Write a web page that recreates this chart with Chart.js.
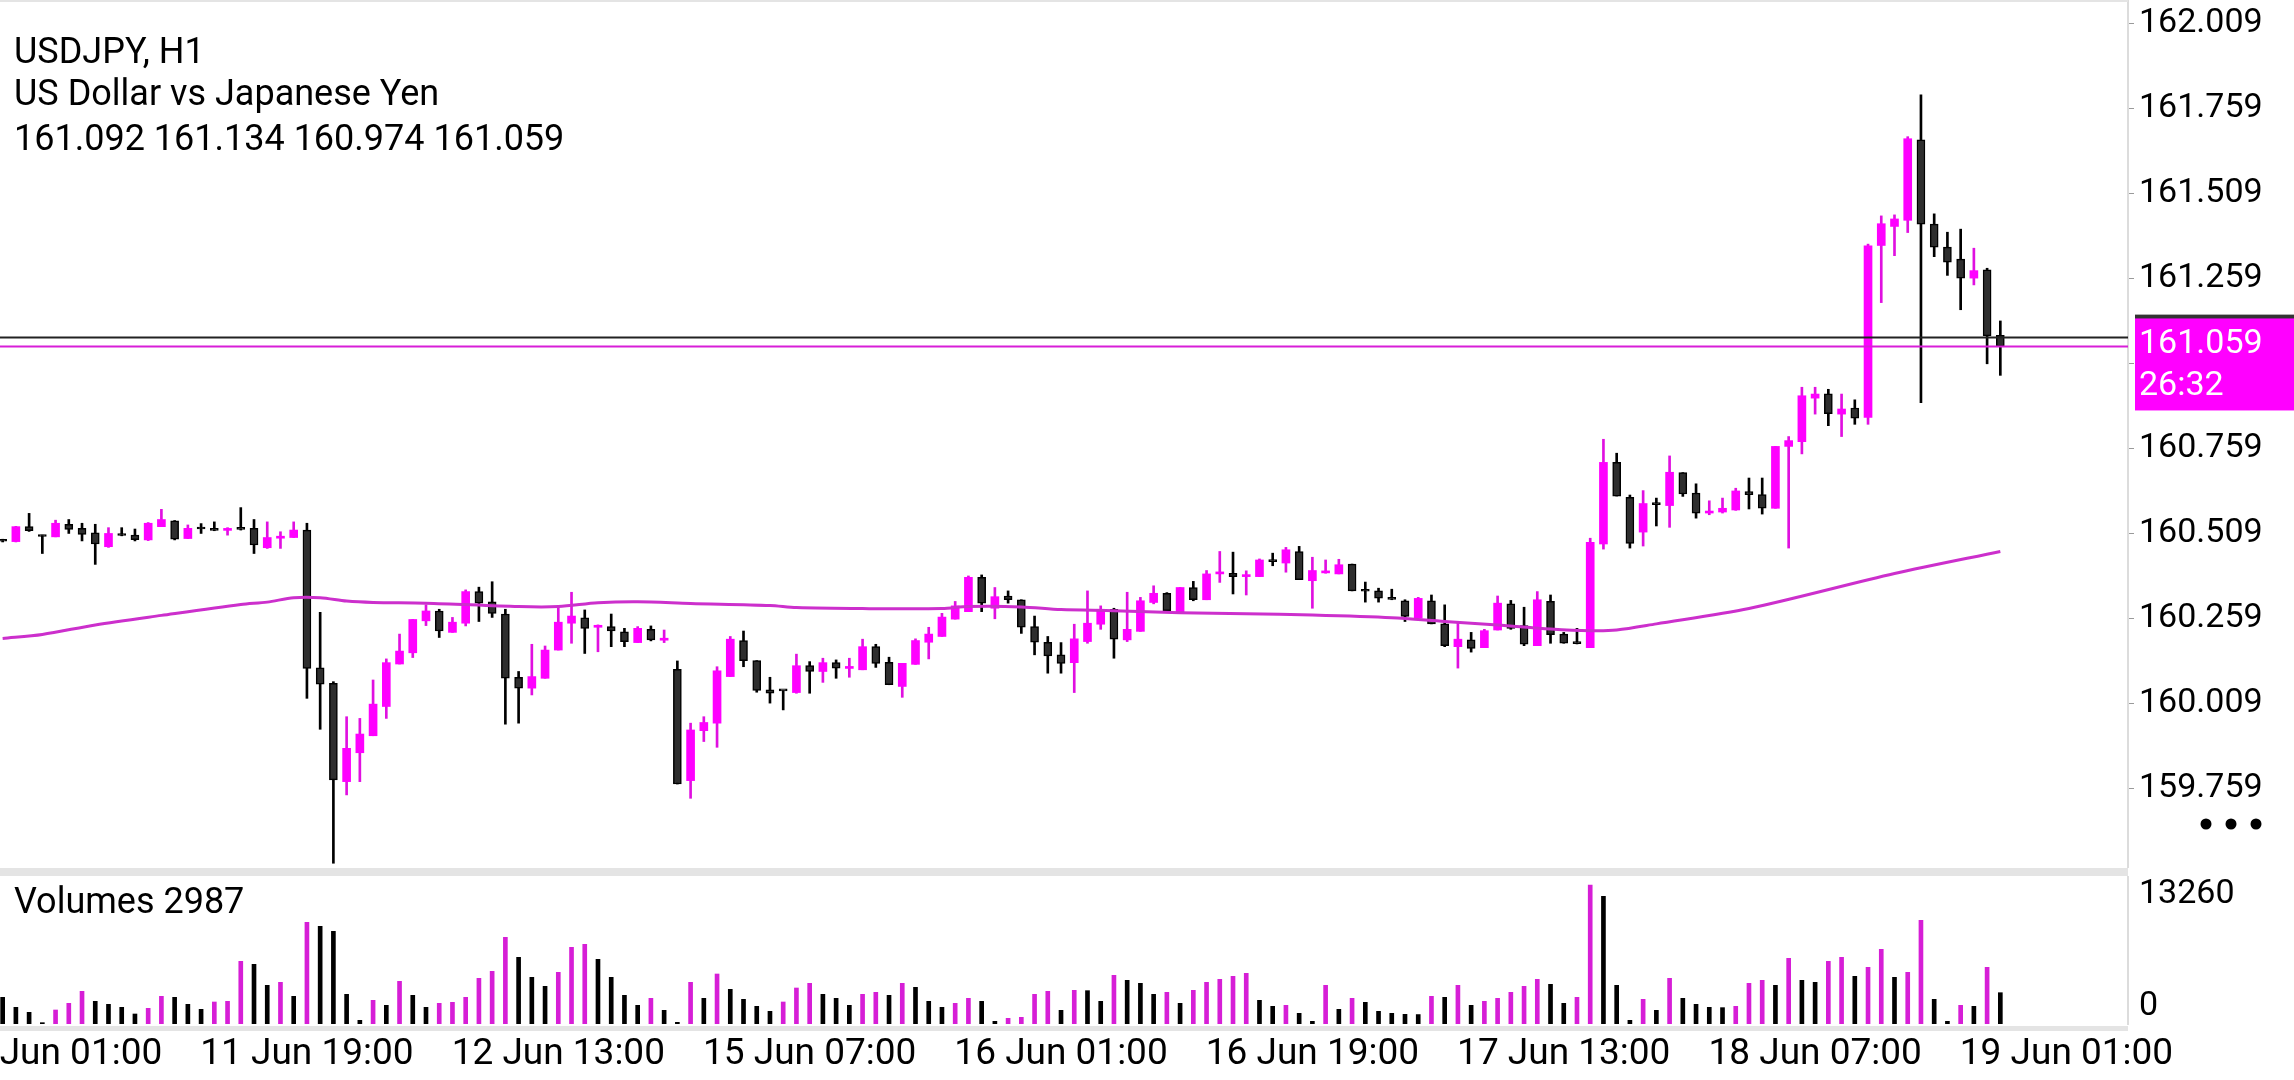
<!DOCTYPE html>
<html>
<head>
<meta charset="utf-8">
<title>USDJPY, H1</title>
<script src="https://cdn.jsdelivr.net/npm/chart.js@4.4.1/dist/chart.umd.min.js"></script>
<style>
    html, body { margin: 0; padding: 0; background: #fff; }
    body { width: 2294px; height: 1080px; position: relative; overflow: hidden; font-family: Roboto, sans-serif; color: #000; }
    canvas { position: absolute; left: 0; }
    #priceChart { top: 0; }
    #volumeChart { top: 876px; }
    .band { position: absolute; background: #e4e4e4; }
    .txt { position: absolute; left: 14px; font-size: 36px; line-height: 42px; white-space: nowrap; }
</style>
</head>
<body>
<canvas id="priceChart" width="2294" height="868"></canvas>
<div class="band" style="left:0;top:0;width:2128px;height:2px"></div>
<div class="band" style="left:0;top:868px;width:2128px;height:8px"></div>
<canvas id="volumeChart" width="2294" height="204"></canvas>
<div class="band" style="left:0;top:1026px;width:2128px;height:5px"></div>
<div class="txt" style="top:30px">USDJPY, H1</div>
<div class="txt" style="top:72px">US Dollar vs Japanese Yen</div>
<div class="txt" id="ohlcText" style="top:117px"></div>
<div class="txt" id="volText" style="top:880px"></div>
<script>
// Hourly candles, oldest first
const open = [
    160.490,160.485,160.529,160.501,160.499,160.536,160.524,160.511,160.470,160.505,
    160.504,160.490,160.529,160.546,160.494,160.524,160.520,160.518,160.523,160.524,
    160.467,160.495,160.497,160.519,160.114,160.068,159.779,159.864,159.914,160.000,
    160.125,160.158,160.252,160.281,160.218,160.245,160.338,160.308,160.272,160.086,
    160.054,160.083,160.166,160.245,160.261,160.233,160.235,160.220,160.188,160.227,
    160.195,160.109,159.782,159.929,159.951,160.088,160.194,160.135,160.049,160.047,
    160.041,160.120,160.103,160.129,160.112,160.108,160.176,160.130,160.059,160.124,
    160.189,160.206,160.257,160.279,160.380,160.289,160.325,160.314,160.235,160.189,
    160.152,160.129,160.191,160.242,160.286,160.196,160.221,160.306,160.333,160.279,
    160.350,160.314,160.390,160.392,160.382,160.382,160.428,160.422,160.456,160.370,
    160.393,160.390,160.419,160.341,160.340,160.318,160.311,160.260,160.311,160.243,
    160.176,160.196,160.173,160.225,160.302,160.238,160.179,160.309,160.213,160.187,
    160.173,160.478,160.718,160.615,160.513,160.596,160.591,160.688,160.628,160.569,
    160.572,160.578,160.632,160.623,160.583,160.765,160.779,160.907,160.920,160.860,
    160.878,160.850,161.356,161.412,161.430,161.667,161.419,161.351,161.316,161.260,
    161.284,161.092
];
const high = [
    160.492,160.530,160.568,160.504,160.548,160.550,160.539,160.536,160.526,160.526,
    160.522,160.541,160.580,160.547,160.534,160.538,160.543,160.526,160.585,160.550,
    160.543,160.514,160.543,160.539,160.277,160.073,159.970,159.965,160.078,160.140,
    160.213,160.256,160.299,160.286,160.262,160.343,160.351,160.367,160.286,160.103,
    160.183,160.178,160.294,160.336,160.284,160.240,160.272,160.230,160.235,160.237,
    160.225,160.134,159.951,159.970,160.117,160.206,160.222,160.135,160.086,160.047,
    160.154,160.132,160.142,160.137,160.142,160.198,160.183,160.145,160.127,160.199,
    160.233,160.274,160.309,160.384,160.387,160.350,160.340,160.314,160.266,160.206,
    160.188,160.242,160.340,160.296,160.289,160.336,160.321,160.355,160.335,160.350,
    160.368,160.400,160.456,160.454,160.399,160.434,160.451,160.468,160.471,160.439,
    160.431,160.433,160.419,160.366,160.348,160.345,160.314,160.321,160.328,160.299,
    160.245,160.218,160.227,160.325,160.312,160.292,160.338,160.328,160.218,160.230,
    160.495,160.786,160.745,160.622,160.635,160.613,160.737,160.688,160.655,160.605,
    160.613,160.642,160.672,160.672,160.765,160.794,160.939,160.939,160.933,160.919,
    160.902,161.360,161.443,161.446,161.676,161.799,161.449,161.395,161.404,161.348,
    161.289,161.134
];
const low = [
    160.484,160.484,160.515,160.450,160.499,160.509,160.487,160.418,160.468,160.502,
    160.487,160.488,160.529,160.490,160.494,160.509,160.517,160.504,160.519,160.450,
    160.465,160.465,160.497,160.024,159.933,159.539,159.740,159.779,159.914,159.965,
    160.125,160.144,160.238,160.203,160.218,160.237,160.250,160.262,159.948,159.951,
    160.034,160.083,160.166,160.186,160.156,160.161,160.176,160.176,160.188,160.193,
    160.188,159.772,159.730,159.897,159.880,160.088,160.117,160.042,160.010,159.990,
    160.039,160.039,160.071,160.083,160.086,160.108,160.115,160.064,160.027,160.124,
    160.140,160.206,160.257,160.279,160.279,160.258,160.304,160.215,160.152,160.098,
    160.098,160.041,160.186,160.227,160.142,160.191,160.221,160.302,160.279,160.279,
    160.311,160.314,160.365,160.331,160.328,160.382,160.414,160.395,160.373,160.289,
    160.392,160.390,160.340,160.307,160.307,160.314,160.250,160.260,160.243,160.176,
    160.113,160.160,160.173,160.225,160.227,160.179,160.179,160.186,160.186,160.184,
    160.173,160.463,160.619,160.466,160.472,160.531,160.527,160.618,160.554,160.564,
    160.569,160.577,160.581,160.566,160.583,160.466,160.743,160.860,160.826,160.794,
    160.830,160.830,161.188,161.326,161.394,160.894,161.323,161.268,161.167,161.240,
    161.008,160.974
];
const close = [
    160.486,160.529,160.517,160.500,160.539,160.521,160.506,160.478,160.509,160.503,
    160.491,160.539,160.550,160.492,160.524,160.522,160.518,160.522,160.521,160.475,
    160.497,160.500,160.519,160.112,160.066,159.784,159.877,159.919,160.007,160.129,
    160.163,160.256,160.281,160.222,160.248,160.338,160.304,160.274,160.083,160.054,
    160.088,160.166,160.248,160.266,160.230,160.236,160.222,160.191,160.230,160.196,
    160.199,159.772,159.931,159.953,160.105,160.198,160.135,160.047,160.039,160.046,
    160.120,160.103,160.129,160.113,160.116,160.176,160.127,160.064,160.127,160.194,
    160.213,160.263,160.296,160.380,160.304,160.323,160.314,160.233,160.189,160.149,
    160.127,160.199,160.245,160.286,160.198,160.227,160.311,160.333,160.282,160.350,
    160.314,160.390,160.392,160.382,160.387,160.431,160.426,160.461,160.373,160.400,
    160.395,160.417,160.340,160.339,160.319,160.315,160.265,160.318,160.243,160.179,
    160.198,160.171,160.223,160.304,160.230,160.183,160.314,160.211,160.186,160.185,
    160.483,160.718,160.619,160.480,160.597,160.594,160.689,160.625,160.569,160.572,
    160.583,160.634,160.623,160.583,160.765,160.782,160.914,160.919,160.861,160.875,
    160.848,161.355,161.420,161.434,161.670,161.419,161.351,161.307,161.260,161.282,
    161.090,161.059
];
const volume = [
    2544,1590,1113,127,1336,1972,3116,2162,1876,1590,954,1495,2639,2544,1876,1399,2099,2162,5978,5692,
    3689,3975,2639,9699,9317,8840,2830,350,2258,1781,4070,2735,1590,1972,2067,2544,4357,5024,8268,6360,
    4452,3593,4929,7314,7600,6169,4452,2735,1781,2449,1304,159,3975,
    2449,4770,3307,2353,1685,1208,2099,3434,3880,2830,2449,1781,2830,3021,2735,3880,3498,2162,1590,1972,
    2449,2162,254,541,636,2830,3116,1304,3212,3180,2162,4643,4166,3880,2830,3021,1972,3212,3975,4261,
    4547,4834,2258,1685,1781,1018,254,3689,1399,2449,2067,1208,1018,
    922,900,2639,2544,3689,1781,2162,2449,3021,3593,4261,3784,1972,2544,13260,12179,3689,350,2353,1304,
    4357,2449,1876,1590,1560,1685,3880,4166,3689,6265,4166,3975,5978,6360,4547,5406,7123,4452,4929,9890,
    2353,254,1781,1685,5406,2987
];

// moving average at these bar indices
const maIndex = [0, 3, 7, 12, 18, 20, 22, 24, 26, 28, 32, 39, 42, 45, 48, 52, 58, 60, 65, 71,
    73, 77, 80, 84, 89, 94, 99, 105, 109, 113, 117, 120, 122, 125, 132, 143, 151];
const maValue = [160.200, 160.212, 160.240, 160.268, 160.300, 160.307, 160.320, 160.320, 160.310, 160.306,
    160.304, 160.294, 160.294, 160.305, 160.308, 160.303, 160.297, 160.291, 160.288, 160.288,
    160.294, 160.293, 160.285, 160.282, 160.276, 160.273, 160.269, 160.261, 160.250, 160.240,
    160.228, 160.223, 160.225, 160.243, 160.288, 160.391, 160.456];

const tickIndex = [4, 23, 42, 61, 80, 99, 118, 137, 156];
const tickLabels = ['11 Jun 01:00', '11 Jun 19:00', '12 Jun 13:00', '15 Jun 07:00', '16 Jun 01:00',
    '16 Jun 19:00', '17 Jun 13:00', '18 Jun 07:00', '19 Jun 01:00'];
const priceTicks = [159.759, 160.009, 160.259, 160.509, 160.759, 161.009, 161.259, 161.509, 161.759, 162.009];

const askPrice = 161.085;
const timeLeft = '26:32';

const MAGENTA = '#ff00ff';
const VOL_MAGENTA = '#d61ed6';
const AXIS_W = 166;
const X_MIN = -0.2;
const X_MAX = 160.65;

Chart.defaults.font.family = 'Roboto, sans-serif';
Chart.defaults.font.size = 34;
Chart.defaults.color = '#000';

const last = close.length - 1;
document.getElementById('ohlcText').textContent =
    [open[last], high[last], low[last], close[last]].map(v => v.toFixed(3)).join(' ');
document.getElementById('volText').textContent = 'Volumes ' + volume[last];

const isUp = close.map((c, i) => c > open[i]);

// keep both panes on the same pixel grid: fixed axis width, no label padding
function fitRightAxis(scale) {
    scale.width = AXIS_W;
    scale.paddingTop = 0;
    scale.paddingBottom = 0;
}

function fitTimeAxis(scale) {
    scale.height = 56;
    scale.paddingLeft = 0;
    scale.paddingRight = 0;
}

const priceOverlay = {
    id: 'priceOverlay',
    afterDatasetsDraw(chart) {
        const { ctx, chartArea, scales } = chart;
        const yAsk = scales.y.getPixelForValue(askPrice);
        const yBid = scales.y.getPixelForValue(close[last]);
        ctx.save();
        ctx.lineWidth = 2;
        ctx.strokeStyle = '#222';
        ctx.beginPath();
        ctx.moveTo(chartArea.left, yAsk);
        ctx.lineTo(chartArea.right, yAsk);
        ctx.stroke();
        ctx.strokeStyle = '#d81ed8';
        ctx.beginPath();
        ctx.moveTo(chartArea.left, yBid);
        ctx.lineTo(chartArea.right, yBid);
        ctx.stroke();
        ctx.restore();
    },
    afterDraw(chart) {
        const { ctx, chartArea, scales } = chart;
        const yAsk = scales.y.getPixelForValue(askPrice);
        const yBid = scales.y.getPixelForValue(close[last]);
        const x0 = chartArea.right + 7;
        const w = chart.width - x0;
        ctx.save();
        ctx.font = '34px Roboto, sans-serif';
        ctx.textBaseline = 'middle';
        ctx.textAlign = 'left';

        // ask label, mostly hidden under the bid label
        ctx.fillStyle = '#333';
        ctx.fillRect(x0, yAsk - 23, w, 46);
        ctx.fillStyle = '#fff';
        ctx.fillText(askPrice.toFixed(3), x0 + 4, yAsk);

        ctx.fillStyle = MAGENTA;
        ctx.fillRect(x0, yBid - 28, w, 92);
        ctx.fillStyle = '#fff';
        ctx.fillText(close[last].toFixed(3), x0 + 4, yBid - 2);
        ctx.fillText(timeLeft, x0 + 4, yBid + 40);

        // menu dots
        ctx.fillStyle = '#000';
        [2206, 2231, 2256].forEach(x => {
            ctx.beginPath();
            ctx.arc(x, 824, 5.5, 0, Math.PI * 2);
            ctx.fill();
        });
        ctx.restore();
    }
};

new Chart(document.getElementById('priceChart'), {
    type: 'bar',
    data: {
        datasets: [{
            type: 'line',
            data: maIndex.map((x, k) => ({ x: x, y: maValue[k] })),
            borderColor: '#cc2fcc',
            borderWidth: 3,
            pointRadius: 0,
            tension: 0.3,
            order: 0
        }, {
            data: open.map((o, i) => ({ x: i, y: [low[i], high[i]] })),
            backgroundColor: isUp.map(u => u ? '#e010e0' : '#000'),
            barThickness: 2,
            grouped: false,
            order: 2
        }, {
            data: open.map((o, i) => ({ x: i, y: [o, close[i]] })),
            backgroundColor: isUp.map(u => u ? MAGENTA : '#2e2e2e'),
            borderColor: isUp.map(u => u ? MAGENTA : '#000'),
            borderWidth: isUp.map(u => u ? 0 : 1.5),
            borderSkipped: false,
            barThickness: 8,
            minBarLength: 2,
            grouped: false,
            order: 1
        }]
    },
    options: {
        responsive: false,
        devicePixelRatio: 1,
        animation: false,
        events: [],
        layout: { padding: 0, autoPadding: false },
        plugins: { legend: { display: false }, tooltip: { enabled: false } },
        scales: {
            x: {
                type: 'linear',
                display: false,
                min: X_MIN,
                max: X_MAX,
                offset: false
            },
            y: {
                position: 'right',
                min: 159.525,
                max: 162.078,
                afterBuildTicks: (scale) => { scale.ticks = priceTicks.map(v => ({ value: v })); },
                afterFit: fitRightAxis,
                ticks: {
                    padding: 5,
                    callback: (v) => v.toFixed(3)
                },
                grid: {
                    drawOnChartArea: false,
                    tickLength: 6,
                    tickColor: '#9a9a9a'
                },
                border: { color: '#dcdcdc', width: 2 }
            }
        }
    },
    plugins: [priceOverlay]
});

const volumeLabels = {
    id: 'volumeLabels',
    afterDraw(chart) {
        const { ctx, chartArea, scales } = chart;
        const maxVol = Math.max(...volume);
        ctx.save();
        ctx.font = '34px Roboto, sans-serif';
        ctx.fillStyle = '#000';
        ctx.textBaseline = 'middle';
        ctx.textAlign = 'left';
        ctx.fillText(String(maxVol), chartArea.right + 11, scales.y.getPixelForValue(maxVol) + 9);
        ctx.fillText('0', chartArea.right + 11, scales.y.getPixelForValue(0) - 18);
        ctx.restore();
    }
};

new Chart(document.getElementById('volumeChart'), {
    type: 'bar',
    data: {
        datasets: [{
            data: volume.map((v, i) => ({ x: i, y: v })),
            backgroundColor: volume.map((v, i) => (i > 0 && v > volume[i - 1]) ? VOL_MAGENTA : '#000'),
            barThickness: 4
        }]
    },
    options: {
        responsive: false,
        devicePixelRatio: 1,
        animation: false,
        events: [],
        layout: { padding: 0, autoPadding: false },
        plugins: { legend: { display: false }, tooltip: { enabled: false } },
        scales: {
            x: {
                type: 'linear',
                min: X_MIN,
                max: X_MAX,
                offset: false,
                afterBuildTicks: (scale) => { scale.ticks = tickIndex.map(v => ({ value: v })); },
                afterFit: fitTimeAxis,
                ticks: {
                    autoSkip: false,
                    maxRotation: 0,
                    padding: 9,
                    font: { size: 37 },
                    callback: (v) => tickLabels[tickIndex.indexOf(v)] || ''
                },
                grid: { display: false, drawTicks: false },
                border: { display: false }
            },
            y: {
                position: 'right',
                min: 0,
                max: 14120,
                afterFit: fitRightAxis,
                ticks: { display: false },
                grid: { display: false },
                border: { color: '#dcdcdc', width: 2 }
            }
        }
    },
    plugins: [volumeLabels]
});
</script>
</body>
</html>
